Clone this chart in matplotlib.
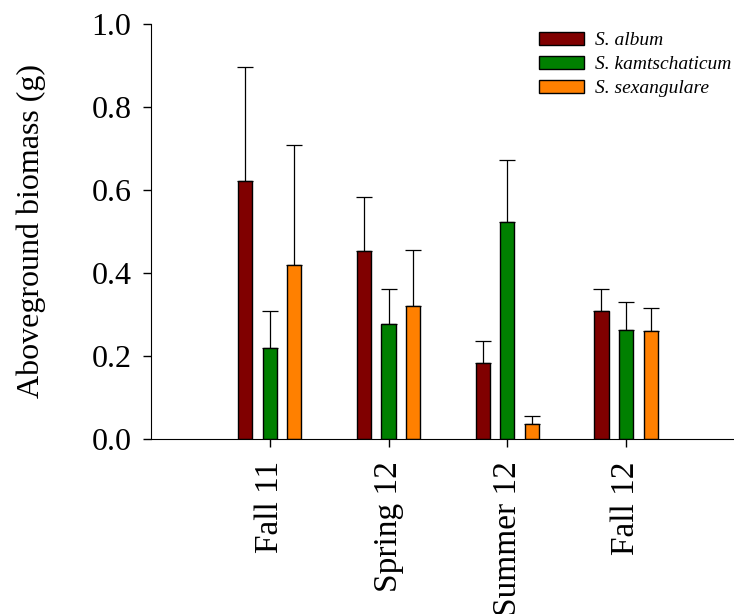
import numpy as np
import matplotlib
matplotlib.use("Agg")
import matplotlib.pyplot as plt

plt.rcParams['font.family'] = ['Liberation Serif', 'DejaVu Serif']

# data
seasons = ["Fall 11", "Spring 12", "Summer 12", "Fall 12"]
species = ["S. album", "S. kamtschaticum", "S. sexangulare"]
album = [0.620, 0.453, 0.183, 0.307]
album_err = [0.275, 0.129, 0.054, 0.055]
kamts = [0.218, 0.278, 0.522, 0.262]
kamts_err = [0.089, 0.084, 0.150, 0.068]
sexang = [0.420, 0.320, 0.035, 0.260]
sexang_err = [0.288, 0.135, 0.020, 0.055]
colors = ["#800000", "#008000", "#FF8000"]

fig = plt.figure(figsize=(7.34, 6.14), dpi=100)
ax = fig.add_axes([0.2057, 0.285, 0.7929, 0.6767])

x = np.arange(1, len(seasons) + 1)
width = 0.12
offset = 0.207
series = [(album, album_err), (kamts, kamts_err), (sexang, sexang_err)]
for i, (vals, errs) in enumerate(series):
    pos = x + (i - 1) * offset
    ax.bar(pos, vals, width, color=colors[i], edgecolor="black", linewidth=1,
           label=species[i], zorder=2)
    ax.errorbar(pos, vals, yerr=[np.zeros(len(errs)), errs], fmt="none",
                ecolor="black", elinewidth=0.9, capsize=6, capthick=0.9, zorder=1)

ax.set_xlim(0, 4.9)
ax.set_ylim(0, 1.0)
ax.set_yticks(np.arange(0, 1.01, 0.2))
ax.set_yticklabels([f"{v:.1f}" for v in np.arange(0, 1.01, 0.2)], fontsize=23)
ax.set_xticks(x)
ax.set_xticklabels(seasons, rotation=90, fontsize=24)
ax.tick_params(axis="both", direction="out", length=6, width=1)
ax.tick_params(axis="y", pad=8)
ax.tick_params(axis="x", pad=10)
ax.set_ylabel("Aboveground biomass (g)", fontsize=23, labelpad=33)

ax.spines["top"].set_visible(False)
ax.spines["right"].set_visible(False)

leg = fig.legend(*ax.get_legend_handles_labels(), loc="upper left",
                 bbox_to_anchor=(539 / 734, (614 - 32) / 614), frameon=False,
                 prop={"style": "italic", "size": 14}, handlelength=2.32,
                 handleheight=0.62, handletextpad=0.57, labelspacing=0.36,
                 borderpad=0, borderaxespad=0)

fig.savefig("out.png", dpi=100)
